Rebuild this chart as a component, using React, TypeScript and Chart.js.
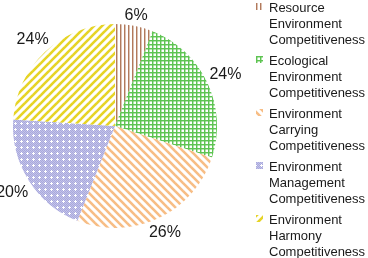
import React, { useEffect, useRef } from "react";
import { Chart, registerables } from "chart.js";

Chart.register(...registerables);

// ---- data ----
const categories: string[][] = [
  ["Resource", "Environment", "Competitiveness"],
  ["Ecological", "Environment", "Competitiveness"],
  ["Environment", "Carrying", "Competitiveness"],
  ["Environment", "Management", "Competitiveness"],
  ["Environment", "Harmony", "Competitiveness"],
];
const shares: number[] = [6, 24, 26, 20, 24];
const patternKinds: string[] = ["vertical", "grid", "backslash", "dots", "slash"];
const patternColors: string[] = ["#b27a5c", "#5ec452", "#f7bd85", "#b4b4e4", "#e6d426"];

const FONT = '"Liberation Sans", Arial, Helvetica, sans-serif';

function makePattern(kind: string, color: string): CanvasPattern | string {
  const c = document.createElement("canvas");
  let size = 4;
  if (kind === "backslash" || kind === "slash") size = 8;
  if (kind === "dots") size = 6;
  c.width = size;
  c.height = size;
  const g = c.getContext("2d");
  if (!g) return color;
  g.fillStyle = "#ffffff";
  g.fillRect(0, 0, size, size);
  if (kind === "vertical") {
    g.fillStyle = color;
    g.fillRect(0, 0, 1, size);
    g.globalAlpha = 0.45;
    g.fillRect(1, 0, 1, size);
    g.globalAlpha = 1;
  } else if (kind === "grid") {
    g.fillStyle = color;
    g.globalAlpha = 0.45;
    g.fillRect(1, 0, 1, size);
    g.fillRect(0, 1, size, 1);
    g.globalAlpha = 1;
    g.fillRect(0, 0, 1, size);
    g.fillRect(0, 0, size, 1);
  } else if (kind === "backslash" || kind === "slash") {
    g.strokeStyle = color;
    g.lineWidth = 2.6;
    for (let o = -size; o <= size; o += size) {
      g.beginPath();
      if (kind === "backslash") {
        g.moveTo(o - 2, -2);
        g.lineTo(o + size + 2, size + 2);
      } else {
        g.moveTo(o - 2, size + 2);
        g.lineTo(o + size + 2, -2);
      }
      g.stroke();
    }
  } else if (kind === "dots") {
    for (let y = 0; y < size; y++) {
      for (let x = 0; x < size; x++) {
        g.fillStyle = (x + y) % 2 === 0 ? "#a9a9dc" : "#c3c3ea";
        g.fillRect(x, y, 1, 1);
      }
    }
    g.fillStyle = "#ffffff";
    g.fillRect(3, 2, 1, 3);
    g.fillRect(2, 3, 3, 1);
  }
  const p = g.createPattern(c, "repeat");
  return p || color;
}

export default function App() {
  const ref = useRef<HTMLCanvasElement | null>(null);

  useEffect(() => {
    const canvas = ref.current;
    if (!canvas) return;
    const patterns = patternKinds.map((k, i) => makePattern(k, patternColors[i]));

    const labelPlugin = {
      id: "outsideLabels",
      afterDatasetsDraw(chart: any) {
        const ctx = chart.ctx as CanvasRenderingContext2D;
        const meta = chart.getDatasetMeta(0);
        ctx.save();
        ctx.font = `16px ${FONT}`;
        ctx.fillStyle = "#1a1a1a";
        ctx.textAlign = "center";
        ctx.textBaseline = "middle";
        meta.data.forEach((arc: any, i: number) => {
          const { x, y, startAngle, endAngle, outerRadius } = arc.getProps(
            ["x", "y", "startAngle", "endAngle", "outerRadius"],
            true
          );
          const mid = (startAngle + endAngle) / 2;
          const text = `${shares[i]}%`;
          const hw = ctx.measureText(text).width / 2;
          const hh = 6;
          const cs = Math.cos(mid);
          const sn = Math.sin(mid);
          const d = outerRadius + 3 + Math.abs(hw * cs) + Math.abs(hh * sn);
          ctx.fillText(text, x + cs * d, y + sn * d + 1);
        });
        ctx.restore();
      },
    };

    const legendPlugin = {
      id: "sideLegend",
      afterDraw(chart: any) {
        const ctx = chart.ctx as CanvasRenderingContext2D;
        const meta = chart.getDatasetMeta(0);
        ctx.save();
        ctx.font = `13px ${FONT}`;
        ctx.textBaseline = "middle";
        ctx.textAlign = "left";
        const boxX = 256;
        const textX = 269;
        const top = 2;
        const step = 53;
        const lh = 16;
        categories.forEach((lines, i) => {
          const y0 = top + i * step;
          const bg = meta.data[i] ? meta.data[i].options.backgroundColor : patterns[i];
          ctx.fillStyle = bg;
          ctx.fillRect(boxX, y0 + 1, 7, 7);
          ctx.fillStyle = "#1a1a1a";
          lines.forEach((line, k) => {
            ctx.fillText(line, textX, y0 + 6.5 + k * lh);
          });
        });
        ctx.restore();
      },
    };

    const chart = new Chart(canvas, {
      type: "pie",
      data: {
        labels: categories.map((c) => c.join(" ")),
        datasets: [
          {
            data: shares,
            backgroundColor: patterns as any,
            borderWidth: 0,
          },
        ],
      },
      options: {
        responsive: false,
        animation: false,
        layout: { padding: { left: 13, top: 24, right: 151, bottom: 30 } },
        plugins: {
          legend: { display: false },
          tooltip: { enabled: false },
        },
      },
      plugins: [labelPlugin, legendPlugin],
    });
    return () => chart.destroy();
  }, []);

  return (
    <div style={{ position: "fixed", left: 0, top: 0, width: 368, height: 258, background: "#ffffff" }}>
      <canvas ref={ref} width={368} height={258} style={{ display: "block", width: 368, height: 258 }} />
    </div>
  );
}
